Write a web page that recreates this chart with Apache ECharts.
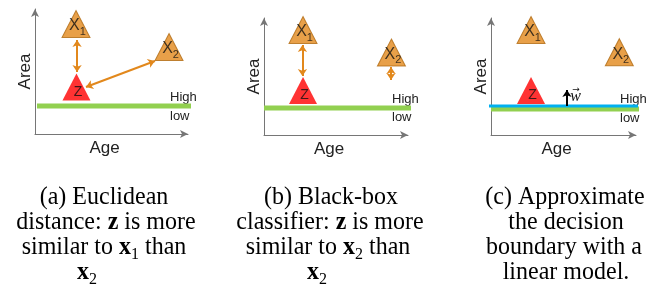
<!DOCTYPE html>
<html>
<head>
<meta charset="utf-8">
<script src="https://cdn.jsdelivr.net/npm/echarts@6/dist/echarts.min.js"></script>
<style>
  html, body { margin: 0; padding: 0; background: #fff; }
  #main { width: 650px; height: 285px; }
</style>
</head>
<body>
<div id="main"></div>
<script>
// all panels use a 0..100 scale on both axes
var pointNames = ['X1', 'Z', 'X2'];
var pointsA = [[26.8, 88.0], [27.1, 37.6], [87.6, 69.6]];
var pointsB = [[27.1, 89.7], [27.1, 38.0], [88.5, 70.5]];
var pointsC = [[27.6, 89.7], [27.6, 38.0], [88.5, 70.8]];

var boundaryA = [[1.3, 22.4], [102.6, 22.4]];
var boundaryB = [[0, 23.1], [104.2, 23.1]];
var boundaryC = [[0, 22.2], [104.1, 22.2]];
var linearModelC = [[-8.3, 24.8], [109.7, 24.8]];

var arrowsA = [[[27.5, 75.2], [27.5, 49.6]], [[33.3, 37.6], [78.4, 58.4]]];
var arrowsB = [[[26.7, 76.9], [26.7, 50.4]], [[88.2, 58.1], [88.2, 47.0]]];
var weightC = [[[52.4, 24.8], [52.4, 38.5]]];

var captionA = ['(a) Euclidean', 'distance: {b|z} is more', 'similar to {b|x}{s|1} than', '{b|x}{s|2}'];
var captionB = ['(b) Black-box', 'classifier: {b|z} is more', 'similar to {b|x}{s|2} than', '{b|x}{s|2}'];
var captionC = ['(c) Approximate', 'the decision', 'boundary with a', 'linear model.'];
var captionCentersA = [104, 106, 104, 87];
var captionCentersB = [331, 330, 328, 317];
var captionCentersC = [565, 566, 564, 566];
var captionBaselines = [206, 231, 256, 281];

var grids = [
    {left: 35, top: 9, width: 153, height: 125},
    {left: 264, top: 18, width: 144, height: 117},
    {left: 491, top: 18, width: 145, height: 117}
];

var orange = '#E2881C';
var axisColor = '#767676';
var sans = 'Liberation Sans';
var serif = 'Liberation Serif';

function xAxis(i) {
    return {
        type: 'value', gridIndex: i, min: 0, max: 100,
        name: 'Age', nameLocation: 'middle', nameGap: 6,
        nameTextStyle: {fontSize: 17, fontFamily: sans, color: '#222', padding: [0, 14, 0, 0]},
        axisLine: {onZero: false, symbol: ['none', 'arrow'], symbolSize: [6, 8], lineStyle: {color: axisColor, width: 1}},
        axisTick: {show: false}, axisLabel: {show: false}, splitLine: {show: false}
    };
}
function yAxis(i) {
    return {
        type: 'value', gridIndex: i, min: 0, max: 100,
        name: 'Area', nameLocation: 'middle', nameGap: 1, nameRotate: 90,
        nameTextStyle: {fontSize: 17, fontFamily: sans, color: '#222'},
        axisLine: {onZero: false, symbol: ['none', 'arrow'], symbolSize: [6, 8], lineStyle: {color: axisColor, width: 1}},
        axisTick: {show: false}, axisLabel: {show: false}, splitLine: {show: false}
    };
}

function triangles(i, pts) {
    var data = pts.map(function (p, k) {
        var isZ = pointNames[k] === 'Z';
        return {
            value: p,
            name: pointNames[k],
            itemStyle: isZ ? {color: '#FF0000'} : {color: orange, borderColor: '#B06A12', borderWidth: 1},
            label: {
                formatter: isZ ? '{z|Z}' : '{x|X}{s|' + pointNames[k].charAt(1) + '}',
                offset: isZ ? [1.5, 5] : [1.5, 2]
            }
        };
    });
    return {
        type: 'scatter', xAxisIndex: i, yAxisIndex: i,
        symbol: 'triangle', symbolSize: [28, 27], z: 5,
        label: {
            show: true, position: 'inside',
            rich: {
                x: {fontSize: 16, fontFamily: sans, color: '#111', lineHeight: 22},
                s: {fontSize: 11, fontFamily: sans, color: '#111', lineHeight: 11, verticalAlign: 'bottom'},
                z: {fontSize: 14, fontFamily: sans, color: '#111'}
            }
        },
        data: data
    };
}

function hline(i, pts, color, width) {
    return {
        type: 'line', xAxisIndex: i, yAxisIndex: i, data: pts,
        symbol: 'none', clip: false, silent: true, z: 3,
        lineStyle: {color: color, width: width}
    };
}

function arrows(i, list, color, symbols) {
    return {
        type: 'lines', coordinateSystem: 'cartesian2d', xAxisIndex: i, yAxisIndex: i,
        symbol: symbols, symbolSize: 7, z: 4, silent: true,
        lineStyle: {color: color, width: 2, opacity: 1},
        data: list.map(function (c) { return {coords: c}; })
    };
}

function caption(lines, centers) {
    return lines.map(function (t, k) {
        return {
            type: 'text', x: centers[k], y: captionBaselines[k] - 8.7, scaleY: 1.08,
            style: {
                text: t, font: '24px "' + serif + '"', fill: '#000',
                align: 'center', verticalAlign: 'middle', lineHeight: 30,
                rich: {
                    b: {font: 'bold 24px "' + serif + '"', lineHeight: 30},
                    s: {font: '16px "' + serif + '"', lineHeight: 17, verticalAlign: 'bottom'}
                }
            }
        };
    });
}

function sideText(x, y, t) {
    return {type: 'text', x: x, y: y, style: {text: t, font: '13px "' + sans + '"', fill: '#222', align: 'left', verticalAlign: 'middle'}};
}

var myChart = echarts.init(document.getElementById('main'));
var option = {
    animation: false,
    backgroundColor: '#fff',
    grid: grids,
    xAxis: [xAxis(0), xAxis(1), xAxis(2)],
    yAxis: [yAxis(0), yAxis(1), yAxis(2)],
    series: [
        hline(0, boundaryA, '#92D050', 5),
        arrows(0, arrowsA, orange, ['arrow', 'arrow']),
        triangles(0, pointsA),
        hline(1, boundaryB, '#92D050', 5),
        arrows(1, arrowsB, orange, ['arrow', 'arrow']),
        triangles(1, pointsB),
        hline(2, boundaryC, '#92D050', 5),
        hline(2, linearModelC, '#00B0F0', 3),
        arrows(2, weightC, '#000', ['none', 'arrow']),
        triangles(2, pointsC)
    ],
    graphic: [].concat(
        caption(captionA, captionCentersA),
        caption(captionB, captionCentersB),
        caption(captionC, captionCentersC),
        [
            sideText(170, 97, 'High'), sideText(170, 116, 'low'),
            sideText(392, 99.5, 'High'), sideText(392, 117.5, 'low'),
            sideText(620, 99, 'High'), sideText(620, 118, 'low'),
            {type: 'text', x: 575.5, y: 97, style: {text: 'w', font: 'italic 16px "' + serif + '"', fill: '#111', align: 'center', verticalAlign: 'middle'}},
            {type: 'text', x: 576, y: 90, style: {text: '\u2192', font: '9px "DejaVu Sans"', fill: '#111', align: 'center', verticalAlign: 'middle'}}
        ]
    )
};
myChart.setOption(option);
</script>
</body>
</html>
